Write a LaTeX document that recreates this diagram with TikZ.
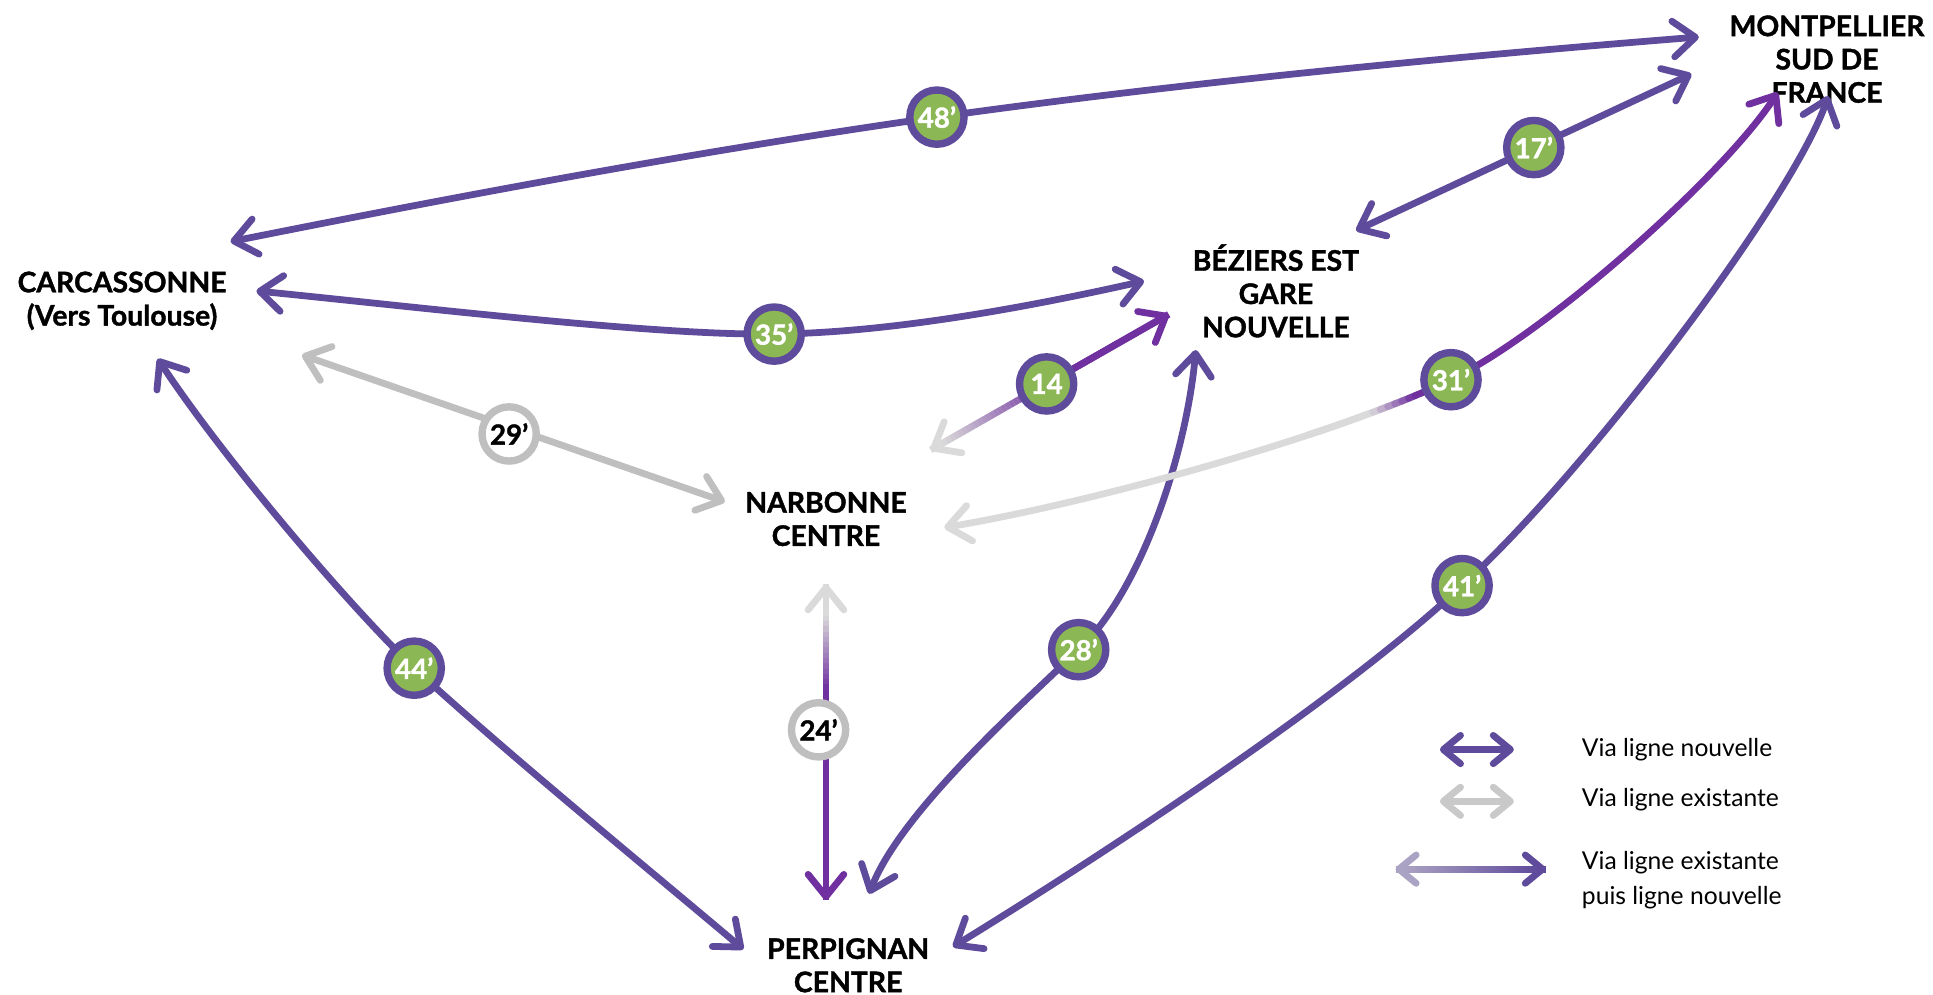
\documentclass[tikz,border=0pt]{standalone}
\usepackage{fontspec}
\setmainfont{Lato}[BoldFeatures={FakeBold=1.3}]
\usetikzlibrary{arrows.meta,calc}
\definecolor{pnew}{HTML}{5F4B9B}
\definecolor{pbright}{HTML}{7030A0}
\definecolor{bgreen}{HTML}{8CB755}
\definecolor{gexist}{HTML}{BFBFBF}
\definecolor{glight}{HTML}{DADADA}
\definecolor{glav}{HTML}{ABA3C3}
\tikzset{
  barb/.tip={Straight Barb[length=18pt,width=29pt,round]},
  lbarb/.tip={Straight Barb[length=14pt,width=23pt,round]},
  link/.style={line width=5.5pt, line cap=round, barb-barb},
  thin/.style={line width=5.5pt, line cap=round},
  badge/.style={circle, fill=bgreen, draw=pnew, line width=6pt, minimum size=44pt, inner sep=0pt, text=white, font=\bfseries\fontsize{22.5}{22.5}\selectfont},
  gbadge/.style={badge, fill=white, draw=gexist, text=black},
  city/.style={align=center, font=\bfseries\fontsize{23}{27}\selectfont, inner sep=0pt},
  legtext/.style={anchor=west, align=left, font=\fontsize{20}{28}\selectfont, inner sep=0pt},
  declare function={bz(\t,\a,\b,\c,\d)=(1-\t)^3*\a+3*(1-\t)^2*\t*\b+3*(1-\t)*\t^2*\c+\t^3*\d;}
}
\newcommand\gradseg[6]{%
  \foreach \i in {0,...,59}{
    \pgfmathsetmacro\ta{\i/60}
    \pgfmathsetmacro\tb{(\i+1)/60}
    \pgfmathsetmacro\pc{100*min(1,max(0,((\ta+\tb)/2-#5)/(#6-#5)))}
    \draw[line width=5.5pt, #4!\pc!#3] ($(#1)!\ta!(#2)$) -- ($(#1)!\tb!(#2)$);
  }}
\begin{document}
\begin{tikzpicture}[x=1pt,y=-1pt]
\useasboundingbox (0,0) rectangle (1568,807);

% cities
\node[city] (mont) at (1482,48) {MONTPELLIER\\SUD DE\\FRANCE};
\node[city] (bez) at (1035,236) {BÉZIERS EST\\GARE\\NOUVELLE};
\node[city] (carc) at (99,244) {CARCASSONNE\\(Vers Toulouse)};
\node[city] (narb) at (670,421) {NARBONNE\\CENTRE};
\node[city] (perp) at (688,783) {PERPIGNAN\\CENTRE};

% end points
\coordinate (c48a) at (187,196); \coordinate (b48) at (760,95); \coordinate (c48b) at (1378,30);
\coordinate (c17a) at (1100,187); \coordinate (c17b) at (1372,60);
\coordinate (c35a) at (208,236); \coordinate (b35) at (628,271); \coordinate (c35b) at (928,228);
\coordinate (c29a) at (245,288); \coordinate (c29b) at (588,407);
\coordinate (c14a) at (755,365); \coordinate (c14b) at (948,255);
\coordinate (c31a) at (766,428); \coordinate (b31) at (1177,308); \coordinate (c31b) at (1442,75);
\coordinate (c24a) at (670,474); \coordinate (c24b) at (670,730);
\coordinate (c28a) at (970,284); \coordinate (b28) at (875,527); \coordinate (c28b) at (705,725);
\coordinate (c41a) at (1483,78); \coordinate (b41) at (1186,475); \coordinate (c41b) at (773,768);
\coordinate (c44a) at (128,291); \coordinate (b44) at (336,542); \coordinate (c44b) at (603,770);

% new line connections
\draw[link, pnew] (c48a) .. controls (377,158) and (570,122) .. (b48)
  .. controls (960,67) and (1178,46) .. (c48b);
\draw[link, pnew] (c17a) -- (c17b);
\draw[link, pnew] (c35a) .. controls (348,250) and (530,272) .. (b35)
  .. controls (720,270) and (830,250) .. (c35b);
\draw[link, pnew] (c28a) .. controls (962,370) and (925,480) .. (b28)
  .. controls (825,575) and (730,660) .. (c28b);
\draw[link, pnew] (c41a) .. controls (1455,160) and (1290,380) .. (b41)
  .. controls (1090,565) and (900,690) .. (c41b);
\draw[link, pnew] (c44a) .. controls (180,370) and (280,488) .. (b44)
  .. controls (410,610) and (520,700) .. (c44b);

% existing line
\draw[link, gexist] (c29a) -- (c29b);

% mixed: 14
\draw[thin, glight, barb-] (c14a) -- ($(c14a)!0.3!(c14b)$);
\draw[thin, pbright, -barb] ($(c14a)!0.6!(c14b)$) -- (c14b);
\gradseg{c14a}{c14b}{glight}{pbright}{0.05}{0.5}

% mixed: 24
\draw[thin, glight, barb-] (c24a) -- ($(c24a)!0.3!(c24b)$);
\draw[thin, pbright, -barb] ($(c24a)!0.5!(c24b)$) -- (c24b);
\gradseg{c24a}{c24b}{glight}{pbright}{0.1}{0.33}

% mixed: 31 (curve)
\draw[thin, glight, barb-] (c31a) .. controls (900,405) and (1090,350) .. (b31);
\draw[thin, pbright, -barb] (b31) .. controls (1257,269) and (1400,140) .. (c31b);
\foreach \i in {40,...,59}{
  \pgfmathsetmacro\ta{\i/60}
  \pgfmathsetmacro\tb{(\i+1)/60}
  \pgfmathsetmacro\xa{bz(\ta,766,900,1090,1177)}
  \pgfmathsetmacro\ya{bz(\ta,428,405,350,308)}
  \pgfmathsetmacro\xb{bz(\tb,766,900,1090,1177)}
  \pgfmathsetmacro\yb{bz(\tb,428,405,350,308)}
  \pgfmathsetmacro\pc{100*min(1,max(0,((\ta+\tb)/2-0.8)/(0.1)))}
  \draw[thin, pbright!\pc!glight] (\xa,\ya) -- (\xb,\yb);
}

% badges
\node[badge] at (b48) {48’};
\node[badge] at ($(c17a)!0.53!(c17b)$) {17’};
\node[badge] at (b35) {35’};
\node[gbadge] at (413,352) {29’};
\node[badge] at ($(c14a)!0.487!(c14b)$) {14};
\node[badge] at (b31) {31’};
\node[gbadge] at (664,592) {24’};
\node[badge] at (b28) {28’};
\node[badge] at (b41) {41’};
\node[badge] at (b44) {44’};

% legend
\coordinate (l1a) at (1168,608); \coordinate (l1b) at (1228,608);
\coordinate (l2a) at (1168,650); \coordinate (l2b) at (1228,650);
\coordinate (l3a) at (1132,705); \coordinate (l3b) at (1254,705);
\draw[thin, pnew, lbarb-lbarb] (l1a) -- (l1b);
\draw[thin, gexist!85!white, lbarb-lbarb] (l2a) -- (l2b);
\draw[thin, glav, lbarb-] (l3a) -- ($(l3a)!0.5!(l3b)$);
\draw[thin, pnew, -lbarb] ($(l3a)!0.5!(l3b)$) -- (l3b);
\gradseg{l3a}{l3b}{glav}{pnew}{0.05}{0.95}
\node[legtext] (t1) at (1283,608) {Via ligne nouvelle};
\node[legtext] (t2) at (1283,649) {Via ligne existante};
\node[legtext] (t3) at (1283,714) {Via ligne existante\\puis ligne nouvelle};
\end{tikzpicture}
\end{document}
